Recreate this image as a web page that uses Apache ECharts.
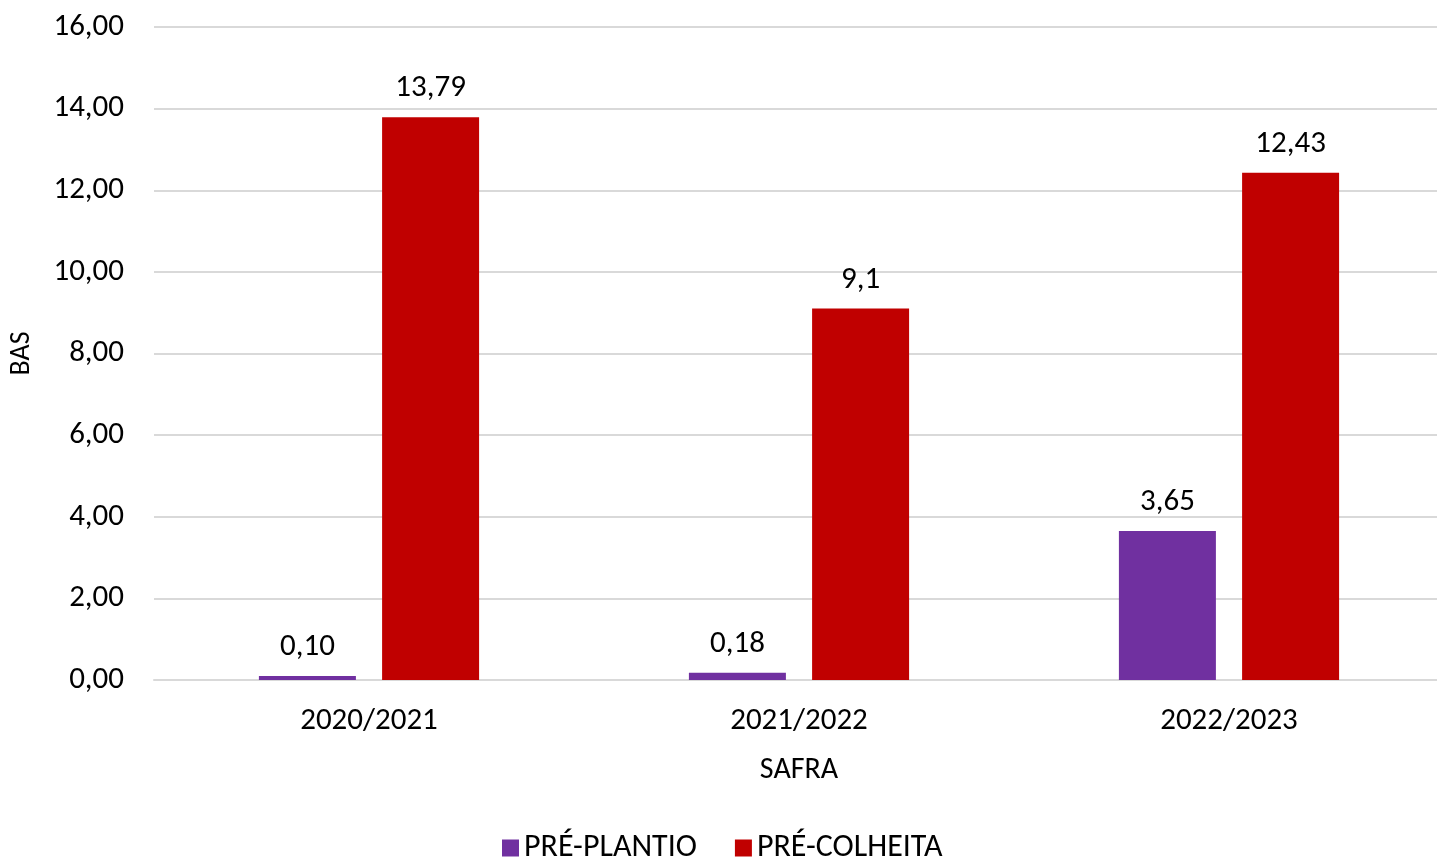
<!DOCTYPE html>
<html>
<head>
<meta charset="utf-8">
<script src="https://cdn.jsdelivr.net/npm/echarts@6/dist/echarts.min.js"></script>
<style>
	html, body { margin: 0; padding: 0; background: #fff; overflow: hidden; }
	#chart { width: 1444px; height: 858px; }
</style>
</head>
<body>
<div id="chart"></div>
<script>
// dados
const safras = ['2020/2021', '2021/2022', '2022/2023']
const prePlantio = [0.10, 0.18, 3.65]
const preColheita = [13.79, 9.1, 12.43]
// rótulos como aparecem no gráfico
const prePlantioLabels = ['0,10', '0,18', '3,65']
const preColheitaLabels = ['13,79', '9,1', '12,43']

const fonte = 'Carlito, Lato, "Liberation Sans", sans-serif'
const myChart = echarts.init(document.getElementById('chart'))

const option = {
	animation: false,
	textStyle: { fontFamily: fonte },
	grid: {
		left: 153,
		top: 27,
		right: 0,
		bottom: 178
	},
	legend: {
		top: 827,
		left: 497,
		itemWidth: 17,
		itemHeight: 17,
		itemGap: 38,
		icon: 'rect',
		textStyle: { fontSize: 32, color: '#000', fontFamily: fonte },
		data: ['PRÉ-PLANTIO', 'PRÉ-COLHEITA']
	},
	xAxis: {
		type: 'category',
		data: safras,
		name: 'SAFRA',
		nameLocation: 'middle',
		nameGap: 75,
		nameTextStyle: { fontSize: 30, color: '#000', fontFamily: fonte },
		axisLine: { lineStyle: { color: '#d9d9d9', width: 2 } },
		axisTick: { show: false },
		axisLabel: { fontSize: 31, color: '#000', margin: 26, fontFamily: fonte }
	},
	yAxis: {
		type: 'value',
		min: 0,
		max: 16,
		interval: 2,
		name: 'BAS',
		nameLocation: 'middle',
		nameGap: 118,
		nameTextStyle: { fontSize: 28, color: '#000', fontFamily: fonte },
		axisLine: { show: false },
		axisTick: { show: false },
		splitLine: { lineStyle: { color: '#d9d9d9', width: 2 } },
		axisLabel: {
			fontSize: 31,
			color: '#000',
			margin: 30,
			fontFamily: fonte,
			formatter: v => v.toFixed(2).replace('.', ',')
		}
	},
	series: [
		{
			name: 'PRÉ-PLANTIO',
			type: 'bar',
			data: prePlantio,
			barWidth: 97,
			barGap: '27%',
			itemStyle: { color: '#7030A0' },
			label: {
				show: true,
				position: 'top',
				distance: 13,
				fontSize: 31,
				color: '#000',
				fontFamily: fonte,
				formatter: p => prePlantioLabels[p.dataIndex]
			}
		},
		{
			name: 'PRÉ-COLHEITA',
			type: 'bar',
			data: preColheita,
			barWidth: 97,
			itemStyle: { color: '#C00000' },
			label: {
				show: true,
				position: 'top',
				distance: 13,
				fontSize: 31,
				color: '#000',
				fontFamily: fonte,
				formatter: p => preColheitaLabels[p.dataIndex]
			}
		}
	]
}
myChart.setOption(option)
</script>
</body>
</html>
